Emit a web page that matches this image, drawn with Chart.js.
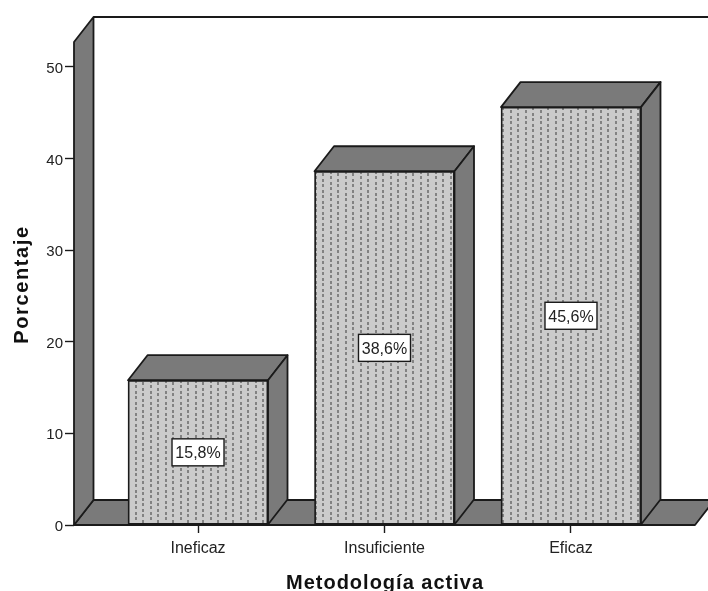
<!DOCTYPE html>
<html>
<head>
<meta charset="utf-8">
<style>
  html, body { margin: 0; padding: 0; background: #fff; }
  #wrap { width: 708px; height: 591px; overflow: hidden; }
</style>
<script src="https://cdn.jsdelivr.net/npm/chart.js@4"></script>
</head>
<body>
<div id="wrap"><canvas id="chart-1" width="708" height="591"></canvas></div>
<script>
var categories = ['Ineficaz', 'Insuficiente', 'Eficaz'];
var percentages = [15.8, 38.6, 45.6];
var yTicks = [0, 10, 20, 30, 40, 50];
var xTitle = 'Metodología activa';
var yTitle = 'Porcentaje';

// 3d look
var depthX = 19.5;
var depthY = -25;
var sideColor = '#7a7a7a';
var lineColor = '#1a1a1a';
var font = 'Liberation Sans';

function barPattern() {
    var tile = document.createElement('canvas');
    tile.width = 15;
    tile.height = 11;
    var c = tile.getContext('2d');
    c.fillStyle = '#cbcbcb';
    c.fillRect(0, 0, 15, 11);
    c.fillStyle = '#828282';
    c.fillRect(0, 0, 2, 3);
    c.fillRect(0, 6, 2, 3);
    c.fillRect(7, 3, 2, 3);
    c.fillRect(7, 8, 2, 3);
    return document.getElementById('chart-1').getContext('2d').createPattern(tile, 'repeat');
}

function poly(ctx, pts, fill) {
    ctx.beginPath();
    ctx.moveTo(pts[0][0], pts[0][1]);
    for (var i = 1; i < pts.length; i++) ctx.lineTo(pts[i][0], pts[i][1]);
    ctx.closePath();
    if (fill) {
        ctx.fillStyle = fill;
        ctx.fill();
    }
    ctx.stroke();
}

var boxPlugin = {
    id: 'box3d',
    afterUpdate: function(chart) {
        // y labels sit a bit under their ticks in the original
        chart.scales.y.getLabelItems(chart.chartArea).forEach(function(item) {
            item.textOffset += 2;
        });
    },
    beforeDatasetsDraw: function(chart) {
        var ctx = chart.ctx, a = chart.chartArea;
        ctx.save();
        ctx.strokeStyle = lineColor;
        ctx.lineWidth = 1.8;
        ctx.lineJoin = 'round';
        // back wall top line
        ctx.beginPath();
        ctx.moveTo(a.left + depthX, a.top + depthY);
        ctx.lineTo(chart.width, a.top + depthY);
        ctx.stroke();
        // floor and left wall
        poly(ctx, [[a.left, a.bottom], [a.left + depthX, a.bottom + depthY],
                   [a.right + depthX, a.bottom + depthY], [a.right, a.bottom]], sideColor);
        poly(ctx, [[a.left, a.top], [a.left + depthX, a.top + depthY],
                   [a.left + depthX, a.bottom + depthY], [a.left, a.bottom]], sideColor);
        // bar sides, the front comes from chart.js
        chart.getDatasetMeta(0).data.forEach(function(bar) {
            var l = bar.x - bar.width / 2, r = bar.x + bar.width / 2;
            poly(ctx, [[l, bar.y], [l + depthX, bar.y + depthY],
                       [r + depthX, bar.y + depthY], [r, bar.y]], sideColor);
            poly(ctx, [[r, bar.y], [r + depthX, bar.y + depthY],
                       [r + depthX, bar.base + depthY], [r, bar.base]], sideColor);
        });
        ctx.restore();
    },
    afterDatasetsDraw: function(chart) {
        var ctx = chart.ctx;
        ctx.save();
        ctx.font = '16px "' + font + '"';
        ctx.textAlign = 'center';
        ctx.textBaseline = 'middle';
        chart.getDatasetMeta(0).data.forEach(function(bar, i) {
            var txt = percentages[i].toFixed(1).replace('.', ',') + '%';
            var cy = (bar.y + bar.base) / 2;
            ctx.fillStyle = '#fff';
            ctx.strokeStyle = lineColor;
            ctx.lineWidth = 1.4;
            ctx.fillRect(bar.x - 26, cy - 13.5, 52, 27);
            ctx.strokeRect(bar.x - 26, cy - 13.5, 52, 27);
            ctx.fillStyle = '#222';
            ctx.fillText(txt, bar.x, cy + 1.5);
        });
        // axis titles, spaced out like the original
        ctx.fillStyle = '#111';
        ctx.font = 'bold 20px "' + font + '"';
        ctx.textBaseline = 'alphabetic';
        ctx.letterSpacing = '1px';
        ctx.fillText(xTitle, 385, 589);
        ctx.translate(28, 284.5);
        ctx.rotate(-Math.PI / 2);
        ctx.letterSpacing = '1.6px';
        ctx.fillText(yTitle, 0, 0);
        ctx.restore();
    }
};

var chart1 = new Chart(document.getElementById('chart-1'), {
    type: 'bar',
    data: {
        datasets: [{
            data: percentages.map(function(v, i) { return { x: i, y: v }; }),
            backgroundColor: barPattern(),
            borderColor: lineColor,
            borderWidth: 1.8,
            borderSkipped: false,
            barThickness: 140
        }]
    },
    options: {
        responsive: false,
        animation: false,
        layout: { padding: { top: 42, right: 13, left: 0, bottom: 0 } },
        plugins: { legend: { display: false }, title: { display: false }, tooltip: { enabled: false } },
        scales: {
            x: {
                type: 'linear',
                offset: false,
                min: -0.665,
                max: 2.665,
                afterBuildTicks: function(scale) {
                    scale.ticks = categories.map(function(c, i) { return { value: i }; });
                },
                afterFit: function(scale) { scale.height = 66; },
                ticks: {
                    autoSkip: false,
                    maxRotation: 0,
                    color: '#222',
                    padding: 6,
                    font: { family: font, size: 16 },
                    callback: function(v) { return categories[v]; }
                },
                grid: { offset: false, drawOnChartArea: false, drawTicks: true, tickLength: 8, tickColor: lineColor, tickWidth: 1.4 },
                border: { display: false }
            },
            y: {
                min: 0,
                max: 52.7,
                afterBuildTicks: function(scale) {
                    scale.ticks = yTicks.map(function(v) { return { value: v }; });
                },
                afterFit: function(scale) { scale.width = 74; },
                ticks: {
                    color: '#222',
                    padding: 2,
                    font: { family: font, size: 15 }
                },
                grid: { drawOnChartArea: false, drawTicks: true, tickLength: 9, tickColor: lineColor, tickWidth: 1.4 },
                border: { display: false }
            }
        }
    },
    plugins: [boxPlugin]
});
</script>
</body>
</html>
